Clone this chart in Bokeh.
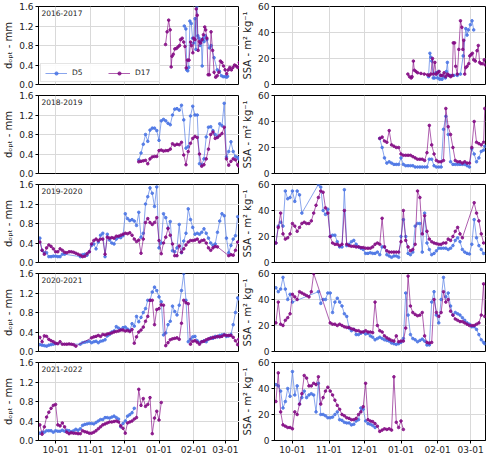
from bokeh.plotting import figure
from bokeh.models import FixedTicker, Range1d, Label, NumeralTickFormatter
from bokeh.layouts import column, row
from bokeh.embed import file_html
from bokeh.resources import INLINE

N = None
# x axis: days since 1 October
month_ticks = [0, 31, 61, 92, 123, 151]
month_labels = ["10-01", "11-01", "12-01", "01-01", "02-01", "03-01"]
dopt_ticks = [0, 0.4, 0.8, 1.2, 1.6]
ssa_ticks = [0, 20, 40, 60]
seasons = ["2016-2017", "2018-2019", "2019-2020", "2020-2021", "2021-2022"]
series_names = ["D5", "D17"]

# ---------------- 2016-2017 ----------------
dopt_d17_1617_days = [97.8, 99.2, 100.6, 101.9, 102.8, 103.6, 104.7, 106.1, 107.5, 108.9, 110.3, 111.2, 112.6, 114.0, 115.1,
                      116.2, 117.3, 118.7, 120.1, 120.9, 122.1, 122.9, 124.0, 125.1, 126.0, 126.8, 127.9, 129.0, 130.4, 131.5,
                      132.7, 133.5, 134.6, 135.7, 136.8, 138.3, 139.7, 141.0, 142.4, 143.8, 145.2, 146.6, 148.0, 149.4, 150.8,
                      152.2, 153.6, 155.0, 156.4, 157.8, 159.2, 160.6, 162.0, 163.4]
dopt_d17_1617 = [0.82, 1.08, 1.32, 1.12, 0.36, 0.58, 0.62, 0.73, 0.74, 0.77, 0.80, 0.92, 0.95, 0.87, 0.78,
                 0.34, 0.50, 0.50, 0.87, 0.80, 0.65, 0.95, 0.92, 1.55, 1.42, 0.70, 0.88, 0.85, 0.92, 1.02,
                 1.18, 1.12, 0.95, 0.20, 0.20, 1.08, 0.70, 0.25, 0.15, 0.18, 0.25, 0.48, 0.45, 0.38, 0.30,
                 0.22, 0.30, 0.35, 0.30, 0.35, 0.40, 0.38, 0.35, 0.45]
dopt_d5_1617_days = [114.5, 115.9, 116.7, 117.6, 118.4, 119.5, 120.7, 121.8, 122.9, 124.0, 124.8, 125.7, 126.5, 127.6, 128.5,
                     129.6, 130.4, 131.3, 132.1, 133.2, 134.6, 136.8, 138.3, 141.0, 143.8, 145.8, 147.5, 149.1, 150.8, 152.2, 153.0]
dopt_d5_1617 = [1.20, 1.14, 0.30, 0.28, 0.35, 1.30, 1.25, 0.95, 0.85, 1.35, 0.72, 1.60, 1.00, 0.95, 0.80,
                0.90, 0.38, 0.95, 0.88, 1.00, 0.92, 0.75, 0.80, 0.55, 0.30, 0.27, 0.18, 0.16, 0.16, 0.15, 0.17]
ssa_d17_1617_days = [97.8, 99.2, 100.6, 101.4, 102.5, 103.3, 104.7, 106.1, 108.9, 111.7, 114.5, 115.9, 117.3, 118.7, 119.5,
                     120.7, 121.8, 122.9, 124.3, 125.7, 127.1, 128.5, 129.9, 131.3, 132.7, 134.1, 135.5, 136.3, 137.4, 138.3,
                     139.7, 141.0, 142.4, 143.6, 144.4, 145.2, 146.0, 146.9, 148.0, 149.4, 150.3, 151.4, 152.5, 153.6, 155.0,
                     156.4, 157.5, 158.6, 159.7, 161.1, 162.5, 163.4]
ssa_d17_1617 = [8, 6, 5, 6, 18, 11, 10, 9, 8.5, 8, 7.5, 7, 8, 20, 8,
                17, 8, 9, 10, 7, 7, 9, 6, 8, 7, 6, 7, 32, 32, 14,
                8, 27, 49, 44, 27, 34, 8, 13, 14, 16, 22, 23, 24, 19, 18,
                26, 30, 17, 16, 16, 19, 15]
ssa_d5_1617_days = [115.3, 116.5, 117.3, 118.1, 119.3, 120.4, 121.5, 122.9, 123.7, 124.8, 125.7, 126.8, 128.2, 129.6, 130.4,
                    131.3, 132.1, 133.5, 136.8, 139.7, 142.4, 144.7, 146.9, 148.0, 149.1, 150.8, 152.2, 153.6]
ssa_d5_1617 = [6, 24, 21, 18, 5, 5, 9, 5, 10, 4, 7, 4, 6, 5, 10,
               17, 7, 7, 7, 7, 8, 22, 43, 38, 42, 46, 49, 42]

# ---------------- 2018-2019 ----------------
days_1819 = list(range(74, 163, 2)) + [163]
dopt_d5_1819 = [0.28, 0.42, 0.60, 0.80, 0.66, 0.89, 0.93, 0.93, 0.88, 0.68,
                1.08, 1.11, 1.08, 1.03, 1.00, 1.20, 1.32, 1.33, 1.30, 1.40,
                1.10, 0.52, 0.55, 1.18, 1.38, 1.20, 1.20, 0.20, 0.18, 0.30,
                0.75, 0.95, 0.96, 0.88, 0.80, 0.75, 1.02, 0.98, 1.44, 0.34,
                0.45, 0.65, 0.45, 0.35, 0.33, 0.30]
dopt_d17_1819 = [0.24, 0.25, 0.26, 0.27, 0.20, 0.30, 0.34, 0.35, 0.35, 0.47,
                 0.48, 0.46, 0.47, 0.47, 0.50, 0.61, 0.58, 0.60, 0.59, 0.64,
                 0.38, 0.18, 0.45, 0.62, 0.72, 0.76, 0.74, 0.40, 0.15, 0.18,
                 0.30, 0.50, 0.80, 0.85, 0.72, 0.74, 0.78, 0.82, 0.95, 0.30,
                 0.17, 0.25, 0.30, 0.28, 0.18, 0.15]
ssa_d5_1819 = [27, 20, 12, 8, 9, 8, 7, 7, 7, 12,
               7, 6, 6, 6, 6, 5, 5, 5, 5, 5,
               5, 11, 11, 6, 5, 5, 5, 34, 44, 30,
               9, 7, 7, 7, 7, 7, 7, 6, 5, 19,
               15, 9, 12, 17, 18, 21]
ssa_d17_1819 = [27, 28, 25, 24, 33, 22, 21, 20, 20, 15,
                14, 14, 14, 14, 13, 12, 11, 11, 11, 10,
                16, 37, 22, 15, 10, 9, 9, 10, 50, 36,
                30, 20, 10, 9, 9, 8, 9, 8, 8, 20,
                40, 24, 23, 22, 24, 50]

# ---------------- 2019-2020 ----------------
days_1920 = list(range(-14, 163, 2))
dopt_d5_1920 = [0.50, 0.25, 0.20, 0.20, 0.12, 0.12, 0.13, 0.13, 0.12, 0.12,
                0.17, 0.17, N, N, N, N, N, N, 0.12, 0.16,
                0.17, 0.15, 0.22, 0.35, 0.38, 0.28, 0.42, 0.56, 0.60, 0.12,
                0.58, 0.46, 0.40, 0.38, 0.48, 0.52, 0.51, 0.55, 1.00, 0.90,
                0.86, 0.88, 0.85, 0.76, 1.03, 0.52, 0.60, 1.20, 1.35, 1.53,
                1.42, 1.15, 1.55, 0.30, 0.40, 1.00, 0.92, 0.70, 0.84, 0.24,
                0.22, 0.30, 0.78, 0.20, 0.44, 0.60, 1.10, 0.88, 0.72, 0.58,
                0.60, 0.58, 0.62, 0.69, 0.60, 0.50, 0.40, 0.35, 0.38, 0.62,
                0.85, 1.00, 0.96, 0.50, 0.20, 0.35, 0.48, 0.55, 0.94]
dopt_d17_1920 = [0.42, 0.25, 0.17, 0.30, 0.36, 0.33, 0.28, 0.22, 0.22, 0.28,
                 0.25, 0.21, 0.20, 0.22, 0.22, 0.21, 0.19, 0.17, 0.15, 0.12,
                 0.13, 0.18, 0.22, 0.38, 0.45, 0.48, 0.45, 0.48, 0.48, 0.17,
                 0.52, 0.50, 0.51, 0.50, 0.54, 0.54, 0.56, 0.58, 0.60, 0.59,
                 0.61, 0.56, 0.48, 0.43, 0.46, 0.19, 0.48, 0.82, 0.90, 0.82,
                 0.78, 0.82, 0.92, 0.45, 0.18, 0.40, 0.52, 0.70, 0.56, 0.38,
                 0.14, 0.14, 0.34, 0.21, 0.28, 0.36, 0.42, 0.45, 0.45, 0.46,
                 0.48, 0.42, 0.45, 0.46, 0.40, 0.30, 0.25, 0.30, 0.33, 0.32,
                 N, N, N, N, 0.14, 0.16, 0.15, 0.25, 0.42]
ssa_d5_1920 = [15, 28, 31, 28, 55, 49, 50, 55, 47, 55,
               52, 38, N, N, N, N, N, N, 60, 58,
               40, 37, 41, 20, 21, 21, 16, 12, 12, 56,
               13, 14, 16, 17, 14, 12, 11, 10, 7, 7,
               7.5, 7, 7, 8, 6, 12, 12, 6, 5, 4,
               5, 5, 4, 20, 33, 20, 7, 6, 8, 28,
               30, 30, 8, 38, 15, 10, 6, 7, 9, 11,
               11, 11, 11, 10, 11, 13, 17, 19, 16, 10,
               8, 7, 6.5, 14, 33, 19, 13, 10, 7]
ssa_d17_1920 = [15, 27, 38, 22, 18, 19, 22, 30, 28, 24,
                27, 30, 31, 30, 30, 32, 38, 44, 50, 55,
                54, 42, 38, 20, 15, 14, 14, 13, 14, 40,
                14, 13, 12.5, 12.5, 12, 12, 11.5, 11.5, 11, 11,
                11, 12, 14, 15, 14, 34, 12, 9, 8, 8,
                8, 8, 8, 16, 40, 17, 12, 9, 10, 14,
                55, 50, 22, 36, 24, 18, 16, 15, 14.5, 14,
                14, 15, 15, 18, 17, 20, 24, 27, 22, 19,
                N, N, N, N, 46, 38, 32, 22, 15]

# ---------------- 2020-2021 ----------------
days_2021 = list(range(-14, 163, 2)) + [163]
dopt_d5_2021 = [0.14, 0.13, 0.12, 0.11, 0.13, 0.14, 0.15, 0.16, N, N,
                N, N, N, N, N, N, N, N, 0.15, 0.18,
                0.19, 0.20, 0.21, 0.18, 0.20, 0.21, 0.18, 0.21, 0.22, 0.24,
                0.32, 0.35, 0.40, 0.42, 0.51, 0.48, 0.45, 0.49, 0.50, 0.46,
                0.43, 0.57, 0.52, 0.72, 0.61, 0.70, 0.80, 0.88, 1.05, 1.05,
                1.22, 1.32, 1.25, 1.12, 1.02, 0.34, 0.38, 0.55, 0.62, 0.93,
                0.82, 0.75, 0.95, 1.25, 1.60, 1.05, 0.20, 0.25, 0.30, 0.31,
                0.22, 0.18, 0.20, 0.22, 0.20, 0.25, 0.28, 0.27, 0.31, 0.30,
                0.33, 0.34, 0.35, 0.31, 0.32, 0.35, 0.55, 0.80, 1.10, 1.08]
dopt_d17_2021 = [0.29, 0.20, 0.32, 0.31, 0.25, 0.22, 0.20, 0.17, 0.16, 0.20,
                 0.15, 0.15, 0.15, 0.155, 0.15, 0.14, 0.11, N, N, N,
                 N, N, N, 0.28, 0.30, 0.31, 0.33, 0.31, 0.35, 0.34,
                 0.36, 0.37, 0.38, 0.40, 0.41, 0.42, 0.44, 0.44, 0.42, 0.43,
                 0.41, 0.45, 0.17, 0.30, 0.40, 0.44, 0.50, 0.62, 0.72, 1.05,
                 1.05, 0.55, 0.86, 0.88, 0.96, 0.95, 0.12, 0.18, 0.24, 0.26,
                 0.27, 0.28, 0.25, 0.58, 1.05, 1.00, 0.98, 0.15, 0.21, 0.22,
                 0.19, 0.15, 0.20, 0.21, 0.24, 0.26, 0.27, 0.29, 0.29, 0.31,
                 0.30, 0.31, 0.34, 0.33, 0.33, 0.33, 0.29, 0.22, 0.14, 0.25]
ssa_d5_2021 = [49, 46, 48, 57, 48, 40, 44, 38, N, N,
               N, N, N, N, N, N, N, N, 46, 37,
               40, 40, 45, 45, 30, 38, 41, 38, 35, 29,
               27, 18, 16, 17, 13, 13, 14, 15, 13.5, 14,
               12, 11, 9, 10, 11, 10, 9, 8.5, 8, 6.5,
               6, 5.5, 6, 7, 10, 45, 28, 13, 10, 9,
               7.5, 8.5, 9.5, 8, 5, 5, 38, 46, 28, 22,
               40, 57, 42, 45, 35, 28, 30, 29, 28, 26,
               24, 22, 21, 19, 19, 17, 13, 9, 7, 6]
ssa_d17_2021 = [22, 38, 21, 20, 24, 26, 29, 44, 42, 40,
                46, 45, 44, 43, 42, 46, 60, N, N, N,
                N, N, N, 22, 21, 21, 20, 21, 20, 19,
                18.5, 18.5, 17.5, 17, 16, 16, 15, 15, 16, 15,
                15, 14.5, 38, 20, 16, 15, 12, 10.5, 9.5, 8.5,
                8, 12, 7.5, 8, 8, 18, 58, 35, 30, 28.5,
                27.5, 28, 30, 12, 7, 6.5, 7, 40, 30, 27,
                30, 46, 38, 40, 31, 28, 25, 24, 23, 23,
                22, 21, 20, 20, 20, 21, 22, 28, 52, 27]

# ---------------- 2021-2022 ----------------
days_2122 = list(range(-14, 95, 2))
dopt_d5_2122 = [0.15, 0.17, 0.17, 0.20, 0.20, 0.20, 0.17, 0.20, 0.19, 0.19,
                0.21, 0.19, 0.21, 0.20, 0.18, 0.20, 0.23, 0.21, 0.24, 0.31,
                0.33, 0.34, 0.35, 0.35, 0.34, 0.37, 0.40, 0.43, 0.43, 0.47,
                0.47, 0.46, 0.48, 0.50, 0.47, 0.44, 0.28, 0.35, 0.40, 0.50,
                0.53, 0.57, 0.66, N, N, N, N, N, N, N,
                N, N, N, N, N]
dopt_d17_2122 = [0.32, 0.13, 0.28, 0.48, 0.58, 0.66, 0.72, 0.74, 0.32, 0.30,
                 0.36, 0.28, 0.17, 0.14, 0.16, 0.15, 0.15, 0.14, 0.14, 0.20,
                 0.18, 0.17, 0.15, 0.15, 0.17, 0.20, 0.24, 0.28, 0.32, 0.34,
                 0.36, 0.38, 0.38, 0.39, 0.40, 0.38, 0.30, 0.25, 0.15, 0.36,
                 0.38, 0.40, 0.44, 0.47, 1.05, 0.72, 0.86, 0.70, 0.74, 0.88,
                 0.14, 0.46, 0.60, 0.42, 0.78]
ssa_d5_2122 = [43, 42, 38, 25, 30, 40, 34, 53, 35, 42,
               28, 33, 38, 33, 35, 36, 35, 22, 44, 20,
               20, 19, 17.5, 17.5, 18, 20, 22, 16, 15.5, 14,
               13.5, 13.5, 12, 12.5, 15, 16, 25, 24, 15, 13,
               12.5, 11.5, 10, N, N, N, N, N, N, N,
               N, N, N, N, N]
ssa_d17_2122 = [30, 52, 22, 12, 11, 10, 10, 9, 22, 20,
                28, 36, 50, 48, 42, 42, 44, 43, 49, 28,
                33, 38, 41, 38, 35, 31, 27, 24, 20, 19,
                17.5, 17, 16, 16, 17, 20, 22, 26, 44, 16,
                15, 14.5, 13, 11, 7, 8, 9, 8.5, 9, 8,
                49, 14, 10, 15, 8.5]

season_data = [
    dict(dopt={"D5": (dopt_d5_1617_days, dopt_d5_1617), "D17": (dopt_d17_1617_days, dopt_d17_1617)},
         ssa={"D5": (ssa_d5_1617_days, ssa_d5_1617), "D17": (ssa_d17_1617_days, ssa_d17_1617)}),
    dict(dopt={"D5": (days_1819, dopt_d5_1819), "D17": (days_1819, dopt_d17_1819)},
         ssa={"D5": (days_1819, ssa_d5_1819), "D17": (days_1819, ssa_d17_1819)}),
    dict(dopt={"D5": (days_1920, dopt_d5_1920), "D17": (days_1920, dopt_d17_1920)},
         ssa={"D5": (days_1920, ssa_d5_1920), "D17": (days_1920, ssa_d17_1920)}),
    dict(dopt={"D5": (days_2021, dopt_d5_2021), "D17": (days_2021, dopt_d17_2021)},
         ssa={"D5": (days_2021, ssa_d5_2021), "D17": (days_2021, ssa_d17_2021)}),
    dict(dopt={"D5": (days_2122, dopt_d5_2122), "D17": (days_2122, dopt_d17_2122)},
         ssa={"D5": (days_2122, ssa_d5_2122), "D17": (days_2122, ssa_d17_2122)}),
]

COLORS = {"D5": "#4a74e4", "D17": "#840a84"}
FONT = "DejaVu Sans"
FRAME_H = 78


def plot_series(p, days, vals, color, label=None):
    xs = [d for d, v in zip(days, vals) if v is not None]
    ys = [v for d, v in zip(days, vals) if v is not None]
    kw = dict(legend_label=label) if label else {}
    p.line(xs, ys, line_color=color, line_width=1, line_alpha=0.65, **kw)
    p.scatter(xs, ys, marker="circle", size=2.6, fill_color=color, line_color=color,
              fill_alpha=0.85, line_alpha=0.85, **kw)


def make_panel(i, left):
    bottom = i == len(seasons) - 1
    top_b, bot_b = 6, (17 if bottom else 5)
    if left:
        lb, rb, fw = 34, 0, 205
    else:
        lb, rb, fw = 34, 3, 212
    p = figure(width=lb + fw + rb, height=top_b + FRAME_H + bot_b,
               x_range=Range1d(-15.2, 163.6),
               y_range=Range1d(0, 1.6 if left else 60),
               output_backend="svg", toolbar_location=None,
               min_border_left=lb, min_border_right=rb,
               min_border_top=top_b, min_border_bottom=bot_b)
    p.background_fill_color = "white"
    p.border_fill_color = "white"
    p.outline_line_color = "black"
    p.outline_line_width = 1
    p.outline_line_alpha = 1

    for g in (p.xgrid[0], p.ygrid[0]):
        g.grid_line_color = "#d9d9d9"
        g.grid_line_width = 1
    p.xgrid[0].ticker = FixedTicker(ticks=month_ticks)

    xa = p.xaxis[0]
    xa.ticker = FixedTicker(ticks=month_ticks)
    xa.major_label_overrides = {t: l for t, l in zip(month_ticks, month_labels)}
    xa.major_label_text_font = FONT
    xa.major_label_text_font_size = "9px"
    xa.major_label_text_color = "#222222"
    xa.major_label_standoff = 2
    xa.major_tick_out = 3
    xa.major_tick_in = 0
    xa.minor_tick_out = 0
    xa.minor_tick_in = 0
    xa.axis_line_color = "black"
    if not bottom:
        xa.visible = False

    ya = p.yaxis[0]
    ya.ticker = FixedTicker(ticks=dopt_ticks if left else ssa_ticks)
    if left:
        ya.formatter = NumeralTickFormatter(format="0.0")
        ya.axis_label = "d\u2092\u209a\u209c - mm"
    else:
        ya.axis_label = "SSA - m\u00b2 kg\u207b\u00b9"
    ya.axis_label_text_font = FONT
    ya.axis_label_text_font_size = "10px"
    ya.axis_label_text_font_style = "normal"
    ya.axis_label_text_color = "#222222"
    ya.axis_label_standoff = 2
    ya.major_label_text_font = FONT
    ya.major_label_text_font_size = "9px"
    ya.major_label_text_color = "#222222"
    ya.major_label_standoff = 2
    ya.major_tick_out = 3
    ya.major_tick_in = 0
    ya.minor_tick_out = 0
    ya.minor_tick_in = 0
    ya.axis_line_color = "black"

    data = season_data[i]["dopt" if left else "ssa"]
    for name in series_names:
        days, vals = data[name]
        lab = name if (left and i == 0) else None
        plot_series(p, days, vals, COLORS[name], lab)

    if left:
        p.add_layout(Label(x=-12.5, y=1.53, text=seasons[i], text_font=FONT,
                           text_font_size="7.5px", text_color="#222222",
                           text_baseline="top", text_align="left"))
        if i == 0:
            lg = p.legend[0]
            lg.location = "bottom_left"
            lg.orientation = "horizontal"
            lg.label_text_font = FONT
            lg.label_text_font_size = "7.5px"
            lg.label_text_color = "#222222"
            lg.label_height = 8
            lg.glyph_height = 8
            lg.glyph_width = 22
            lg.label_standoff = 5
            lg.spacing = 16
            lg.padding = 4
            lg.margin = 2
            lg.border_line_color = "#cccccc"
            lg.border_line_width = 1
            lg.background_fill_alpha = 0.9
    return p


rows = []
for i in range(len(seasons)):
    rows.append(row(make_panel(i, True), make_panel(i, False)))
layout = column(*rows)

open("out.html", "w").write(file_html(layout, INLINE))
